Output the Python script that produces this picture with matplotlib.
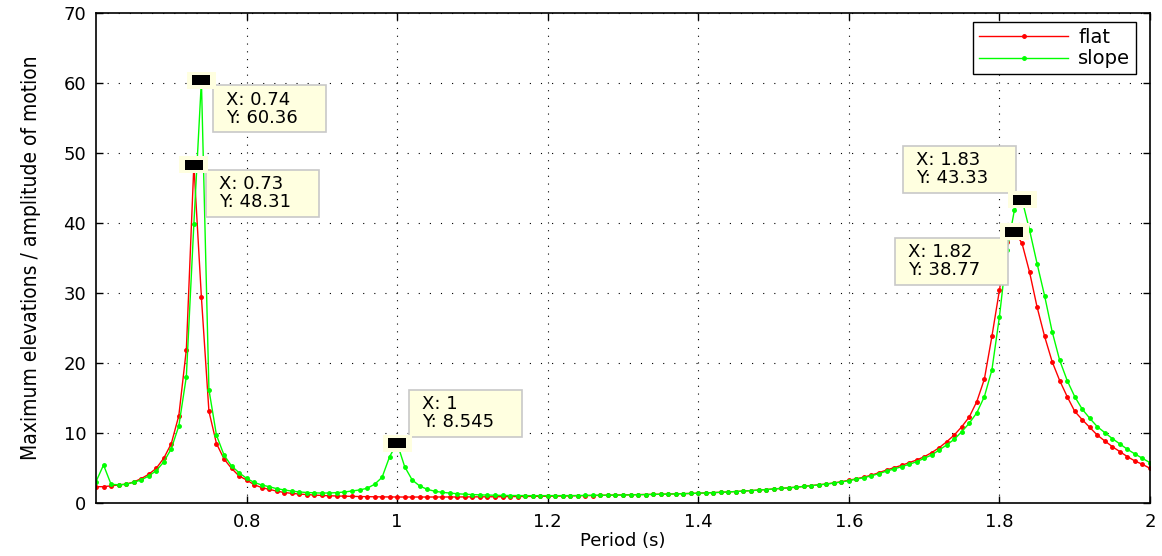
import matplotlib
matplotlib.use('Agg')
import matplotlib.pyplot as plt
from matplotlib.patches import Rectangle
from matplotlib.transforms import ScaledTranslation


# period (s), sampled every 0.01 s
period = [0.60, 0.61, 0.62, 0.63, 0.64, 0.65, 0.66, 0.67, 0.68, 0.69,
          0.70, 0.71, 0.72, 0.73, 0.74, 0.75, 0.76, 0.77, 0.78, 0.79,
          0.80, 0.81, 0.82, 0.83, 0.84, 0.85, 0.86, 0.87, 0.88, 0.89,
          0.90, 0.91, 0.92, 0.93, 0.94, 0.95, 0.96, 0.97, 0.98, 0.99,
          1.00, 1.01, 1.02, 1.03, 1.04, 1.05, 1.06, 1.07, 1.08, 1.09,
          1.10, 1.11, 1.12, 1.13, 1.14, 1.15, 1.16, 1.17, 1.18, 1.19,
          1.20, 1.21, 1.22, 1.23, 1.24, 1.25, 1.26, 1.27, 1.28, 1.29,
          1.30, 1.31, 1.32, 1.33, 1.34, 1.35, 1.36, 1.37, 1.38, 1.39,
          1.40, 1.41, 1.42, 1.43, 1.44, 1.45, 1.46, 1.47, 1.48, 1.49,
          1.50, 1.51, 1.52, 1.53, 1.54, 1.55, 1.56, 1.57, 1.58, 1.59,
          1.60, 1.61, 1.62, 1.63, 1.64, 1.65, 1.66, 1.67, 1.68, 1.69,
          1.70, 1.71, 1.72, 1.73, 1.74, 1.75, 1.76, 1.77, 1.78, 1.79,
          1.80, 1.81, 1.82, 1.83, 1.84, 1.85, 1.86, 1.87, 1.88, 1.89,
          1.90, 1.91, 1.92, 1.93, 1.94, 1.95, 1.96, 1.97, 1.98, 1.99,
          2.00]

flat = [2.33, 2.33, 2.45, 2.57, 2.70, 3.00, 3.48, 4.10, 4.95, 6.40,
        8.48, 12.48, 21.9, 48.31, 29.4, 13.1, 8.50, 6.30, 4.95, 3.86,
        3.29, 2.62, 2.20, 1.95, 1.70, 1.50, 1.38, 1.28, 1.20, 1.13,
        1.08, 1.03, 1.00, 0.97, 0.94, 0.92, 0.90, 0.88, 0.87, 0.86,
        0.85, 0.85, 0.85, 0.85, 0.85, 0.85, 0.86, 0.86, 0.86, 0.87,
        0.87, 0.88, 0.88, 0.89, 0.90, 0.91, 0.92, 0.93, 0.94, 0.95,
        0.96, 0.98, 0.99, 1.01, 1.02, 1.04, 1.06, 1.08, 1.10, 1.12,
        1.14, 1.16, 1.18, 1.20, 1.22, 1.24, 1.27, 1.30, 1.33, 1.36,
        1.40, 1.44, 1.48, 1.53, 1.58, 1.64, 1.70, 1.77, 1.84, 1.92,
        2.00, 2.08, 2.17, 2.26, 2.37, 2.48, 2.60, 2.72, 2.87, 3.04,
        3.25, 3.46, 3.70, 3.98, 4.33, 4.71, 5.05, 5.38, 5.76, 6.14,
        6.60, 7.20, 7.90, 8.76, 9.71, 10.9, 12.3, 14.5, 17.7, 23.8,
        30.4, 37.3, 38.77, 37.1, 33.0, 28.0, 23.8, 20.2, 17.5, 15.2,
        13.1, 11.9, 10.8, 9.70, 8.86, 8.05, 7.33, 6.62, 6.00, 5.52,
        4.95]

slope = [3.05, 5.43, 2.67, 2.60, 2.67, 2.95, 3.29, 3.86, 4.62, 5.86,
         7.76, 11.0, 18.05, 39.86, 60.36, 16.2, 9.70, 6.86, 5.29, 4.33,
         3.52, 2.95, 2.57, 2.33, 2.05, 1.86, 1.70, 1.58, 1.50, 1.45,
         1.42, 1.43, 1.48, 1.57, 1.71, 1.86, 2.10, 2.67, 3.67, 6.62,
         8.545, 5.19, 3.29, 2.43, 1.95, 1.68, 1.52, 1.42, 1.32, 1.25,
         1.20, 1.16, 1.13, 1.10, 1.08, 1.07, 1.06, 1.05, 1.05, 1.05,
         1.05, 1.05, 1.06, 1.06, 1.07, 1.08, 1.09, 1.10, 1.11, 1.12,
         1.14, 1.16, 1.18, 1.20, 1.22, 1.24, 1.27, 1.30, 1.33, 1.36,
         1.40, 1.44, 1.48, 1.53, 1.58, 1.64, 1.70, 1.77, 1.84, 1.92,
         2.00, 2.08, 2.17, 2.26, 2.36, 2.47, 2.58, 2.70, 2.84, 3.00,
         3.20, 3.40, 3.62, 3.88, 4.20, 4.55, 4.86, 5.19, 5.52, 5.90,
         6.38, 6.86, 7.57, 8.30, 9.10, 10.2, 11.4, 12.9, 15.2, 19.0,
         26.6, 36.1, 41.9, 43.33, 39.0, 34.2, 29.6, 24.5, 20.4, 17.5,
         15.2, 13.4, 12.1, 10.9, 10.05, 9.20, 8.43, 7.67, 7.00, 6.38,
         5.76]

xticks = [0.8, 1.0, 1.2, 1.4, 1.6, 1.8, 2.0]
xticklabels = ['0.8', '1', '1.2', '1.4', '1.6', '1.8', '2']
yticks = [0, 10, 20, 30, 40, 50, 60, 70]

# data tips
tip_x = [0.74, 0.73, 1.00, 1.83, 1.82]
tip_y = [60.36, 48.31, 8.545, 43.33, 38.77]
tip_xtxt = ['0.74', '0.73', '1', '1.83', '1.82']
tip_ytxt = ['60.36', '48.31', '8.545', '43.33', '38.77']
# box lower-left corner offset from the point, in pixels
tip_off = [(12, -52), (12, -52), (12, 6.5), (-119, 7), (-119, -53)]

plt.rcParams['font.family'] = ['DejaVu Sans']

fig = plt.figure(figsize=(11.62, 5.56), dpi=100)
ax = fig.add_axes([96 / 1162, 1 - 503 / 556, 1054 / 1162, 490 / 556])

ax.plot(period, flat, 'r.-', lw=1.0, ms=5, label='flat')
ax.plot(period, slope, '.-', color=(0, 1, 0), lw=1.0, ms=5, label='slope')

ax.set_xlim(0.6, 2.0)
ax.set_ylim(0, 70)
ax.set_xticks(xticks)
ax.set_xticklabels(xticklabels)
ax.set_yticks(yticks)
ax.tick_params(direction='in', top=True, right=True, length=5, width=1,
               labelsize=13, pad=7)
for s in ax.spines.values():
    s.set_linewidth(1.2)
ax.xaxis.grid(True, color='k', linestyle=(0, (1, 6)), lw=0.8)
ax.yaxis.grid(True, color='k', linestyle=(0, (1, 9)), lw=0.8)

ax.set_xlabel('Period (s)', fontsize=13, labelpad=1)
ax.set_ylabel('Maximum elevations / amplitude of motion', fontsize=15,
              fontstretch='condensed', labelpad=16)

tipbg = (1, 1, 0.88)
for i in range(len(tip_x)):
    tr = fig.dpi_scale_trans + ScaledTranslation(tip_x[i], tip_y[i], ax.transData)
    dx, dy = tip_off[i]
    ax.add_patch(Rectangle((dx / 100, dy / 100), 1.13, 0.47, transform=tr,
                           facecolor=tipbg, edgecolor='#c8c8c8', lw=1.2,
                           zorder=5, clip_on=False))
    ax.text((dx + 13) / 100, (dy + 23.5) / 100,
            'X: ' + tip_xtxt[i] + '\nY: ' + tip_ytxt[i],
            transform=tr, fontsize=13, va='center', ha='left',
            linespacing=1.0, zorder=6)
    ax.add_patch(Rectangle((-0.145, -0.085), 0.29, 0.17, transform=tr,
                           facecolor=tipbg, edgecolor='none', zorder=7,
                           clip_on=False))
    ax.add_patch(Rectangle((-0.09, -0.05), 0.18, 0.10, transform=tr,
                           facecolor='k', edgecolor='none', zorder=8,
                           clip_on=False))

leg = ax.legend(loc='upper right', bbox_to_anchor=(1 - 14 / 1054, 1 - 8.7 / 490),
                borderaxespad=0, fontsize=14, handlelength=4.6,
                handletextpad=0.5, labelspacing=0.15, borderpad=0.3,
                fancybox=False, framealpha=1, edgecolor='k', numpoints=1)
leg.get_frame().set_linewidth(1.0)

plt.savefig('out.png', dpi=100)
